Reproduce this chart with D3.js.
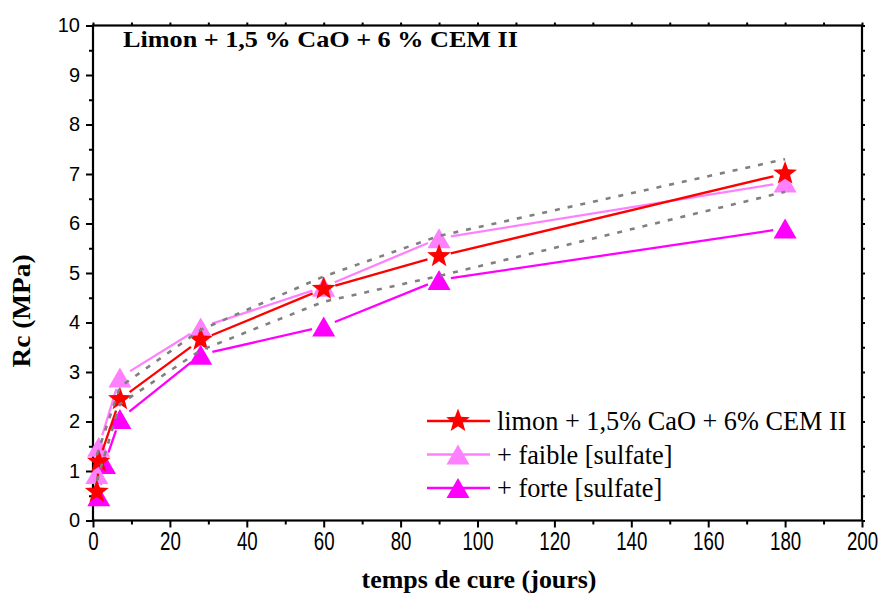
<!DOCTYPE html>
<html><head><meta charset="utf-8">
<script src="https://cdn.jsdelivr.net/npm/d3@7"></script>
<style>body{margin:0;background:#fff}svg{display:block}</style>
</head><body>
<script>
// ---- data ----
const xTicks = [0,20,40,60,80,100,120,140,160,180,200];
const xMinor = [10,30,50,70,90,110,130,150,170,190];
const yTicks = [0,1,2,3,4,5,6,7,8,9,10];
const yMinor = [0.5,1.5,2.5,3.5,4.5,5.5,6.5,7.5,8.5,9.5];
const daysLimon = [1,1.5,7,28,60,90,180];
const rcLimon   = [0.58,1.19,2.45,3.65,4.68,5.34,7.01];
const daysFaible = [1,1.5,7,28,60,90,180];
const rcFaible   = [0.94,1.49,2.89,3.90,4.72,5.70,6.83];
const daysForte = [1.5,3,7,28,60,90,180];
const rcForte   = [0.49,1.14,2.05,3.35,3.92,4.86,5.90];
const daysEnv = [1,7,28,60,90,180];
const rcUpper = [1.32,2.70,3.85,4.93,5.75,7.30];
const rcLower = [0.80,2.35,3.44,4.42,4.94,6.64];
const seriesNames = ["limon + 1,5% CaO + 6% CEM II","+ faible [sulfate]","+ forte [sulfate]"];
const titleText = "Limon + 1,5 % CaO + 6 % CEM II";
const xLabel = "temps de cure (jours)";
const yLabel = "Rc (MPa)";

// ---- layout ----
const W = 883, H = 597;
const L = 93, R = 862, T = 25.5, B = 520.5;
const x = d3.scaleLinear().domain([0,200]).range([L,R]);
const y = d3.scaleLinear().domain([0,10]).range([B,T]);

const svg = d3.select("body").append("svg").attr("width",W).attr("height",H);

function starPath(Ro, Ri){
  const p=[];
  for(let i=0;i<10;i++){const a=-Math.PI/2+i*Math.PI/5;const r=i%2?Ri:Ro;p.push([r*Math.cos(a),r*Math.sin(a)]);}
  return "M"+p.map(d=>d[0].toFixed(2)+","+d[1].toFixed(2)).join("L")+"Z";
}
function triPath(w,h){return `M0,${-h/2}L${w/2},${h/2}L${-w/2},${h/2}Z`;}
const STAR = starPath(12.5,5.2), TRI = triPath(23,20);

const series = [
  {name:seriesNames[2], days:daysForte, vals:rcForte, color:"#FF00FF", shape:TRI},
  {name:seriesNames[1], days:daysFaible, vals:rcFaible, color:"#FF80FF", shape:TRI},
  {name:seriesNames[0], days:daysLimon, vals:rcLimon, color:"#FF0000", shape:STAR},
];

// axes
const gx = svg.append("g").attr("transform",`translate(0,${B})`)
  .call(d3.axisBottom(x).tickValues(xTicks).tickSize(7).tickFormat(d3.format("d")));
gx.selectAll("text").attr("y",30).attr("dy",null)
  .attr("font-family","Liberation Sans, Arial").attr("font-size",26)
  .attr("transform","scale(0.72,1)").attr("fill","#000");
svg.append("g").attr("transform",`translate(0,${B})`)
  .call(d3.axisBottom(x).tickValues(xMinor).tickSize(4).tickFormat(""));
const gy = svg.append("g").attr("transform",`translate(${L},0)`)
  .call(d3.axisLeft(y).tickValues(yTicks).tickSize(7).tickFormat(d3.format("d")));
gy.selectAll("text").attr("x",-13).attr("font-family","Liberation Sans, Arial").attr("font-size",20).attr("fill","#000");
svg.append("g").attr("transform",`translate(${L},0)`)
  .call(d3.axisLeft(y).tickValues(yMinor).tickSize(4).tickFormat(""));
svg.append("g").attr("transform",`translate(0,${T})`)
  .call(d3.axisTop(x).tickValues(xMinor.concat(xTicks)).tickSize(3).tickFormat(""));
svg.append("g").attr("transform",`translate(${R},0)`)
  .call(d3.axisRight(y).tickValues(yMinor.concat(yTicks)).tickSize(3).tickFormat(""));
svg.selectAll(".domain").remove();
svg.selectAll(".tick line").attr("stroke","#000").attr("stroke-width",2);
svg.append("rect").attr("x",L).attr("y",T).attr("width",R-L).attr("height",B-T)
  .attr("fill","none").attr("stroke","#000").attr("stroke-width",2.2);

// series
const GAP = 12;
series.forEach(s=>{
  const pts = s.days.map((d,i)=>[x(d),y(s.vals[i])]);
  const g = svg.append("g");
  for(let i=0;i<pts.length-1;i++){
    const [x1,y1]=pts[i],[x2,y2]=pts[i+1];
    const dx=x2-x1, dy=y2-y1, len=Math.hypot(dx,dy);
    if(len<=2*GAP) continue;
    const ux=dx/len, uy=dy/len;
    g.append("line").attr("x1",x1+ux*GAP).attr("y1",y1+uy*GAP)
      .attr("x2",x2-ux*GAP).attr("y2",y2-uy*GAP)
      .attr("stroke",s.color).attr("stroke-width",2.3);
  }
  g.selectAll("path.m").data(pts).join("path").attr("class","m")
    .attr("d",s.shape).attr("transform",d=>`translate(${d[0]},${d[1]})`).attr("fill",s.color);
});

// envelope dotted
[rcUpper, rcLower].forEach(vals=>{
  svg.append("path").datum(daysEnv.map((d,i)=>[d,vals[i]]))
    .attr("d",d3.line().x(d=>x(d[0])).y(d=>y(d[1])))
    .attr("fill","none").attr("stroke","#808080").attr("stroke-width",2.6)
    .attr("stroke-dasharray","5,8");
});

// title
svg.append("text").attr("x",123).attr("y",47).text(titleText)
  .attr("font-family","Liberation Serif, Times New Roman").attr("font-weight","bold")
  .attr("font-size",23).attr("textLength",395).attr("lengthAdjust","spacingAndGlyphs");

// axis labels
svg.append("text").attr("transform","translate(30,311) rotate(-90)").attr("text-anchor","middle")
  .text(yLabel).attr("font-family","Liberation Serif, Times New Roman").attr("font-weight","bold")
  .attr("font-size",26).attr("textLength",113).attr("lengthAdjust","spacingAndGlyphs");
svg.append("text").attr("x",479).attr("y",588).attr("text-anchor","middle")
  .text(xLabel).attr("font-family","Liberation Serif, Times New Roman").attr("font-weight","bold")
  .attr("font-size",26).attr("textLength",235).attr("lengthAdjust","spacingAndGlyphs");

// legend
const legRows = [421,454.5,488];
const legOrder = [series[2],series[1],series[0]];
legOrder.forEach((s,i)=>{
  const yy = legRows[i];
  const g = svg.append("g");
  g.append("line").attr("x1",427).attr("x2",490).attr("y1",yy).attr("y2",yy)
    .attr("stroke",s.color).attr("stroke-width",2.3);
  g.append("path").attr("d",s.shape).attr("transform",`translate(458,${yy})`).attr("fill",s.color);
  g.append("text").attr("x",497).attr("y",yy+9).text(s.name)
    .attr("font-family","Liberation Serif, Times New Roman").attr("font-size",26.3);
});
</script>
</body></html>
